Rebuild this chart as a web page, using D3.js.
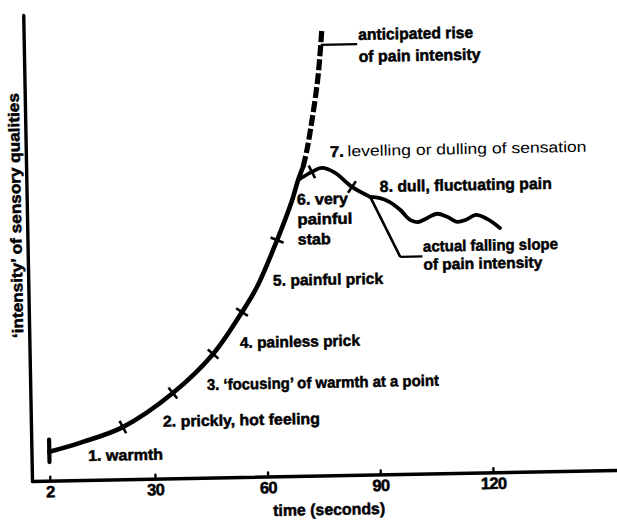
<!DOCTYPE html>
<html><head><meta charset="utf-8">
<script src="https://cdn.jsdelivr.net/npm/d3@7"></script>
<style>
html,body{margin:0;padding:0;background:#fff;}
svg{display:block;}
text{font-family:"Liberation Sans",Arial,sans-serif;fill:#000;}
</style></head><body>
<svg id="chart" width="617" height="522"></svg>
<script>
// ---------- data ----------
const xTicks = [2, 30, 60, 90, 120];
const xAxisTitle = "time (seconds)";
const yAxisTitle = "\u2018intensity\u2019 of sensory qualities";
const risingCurve = [[2,6.2],[10.2,8.0],[21.7,11.2],[35.2,18.3],[46.1,26.5],[54,35.4],[58.1,40.7],[63.7,50.7],[67.9,59.2],[69.6,63.5],[71,66.3]];
const anticipatedRise = [[71,66.3],[72.1,69.9],[73.6,76.3],[75.4,85.5],[76.7,96]];
const levellingCurve = [[69.6,63.5],[73.3,65.2],[76.0,66.0],[79.5,64.9],[83.9,61.8],[88.7,59.6]];
const fluctuatingPain = [[88.7,59.6],[91.3,59.3],[93.9,58.4],[96.6,56.7],[99.2,54.5],[101.3,54.0],[103.7,54.8],[106.4,55.7],[109.1,55.0],[111.7,53.9],[114.1,54.3],[116.8,55.3],[119.7,54.4],[123.1,52.4]];
const fallingSlope = [[88.7,59.6],[96.4,46.6]];
const onsetTime = 2;
const onsetRange = [4.0, 8.8];
const stageMarkTimes = [21.7, 35.2, 46.1, 54, 63.7, 73.3, 83.9];
const stageLabels = ["1. warmth", "2. prickly, hot feeling", "3. \u2018focusing\u2019 of warmth at a point", "4. painless prick", "5. painful prick", "6. very|painful|stab", "7.", "levelling or dulling of sensation", "8. dull, fluctuating pain"];
const calloutLabels = ["anticipated rise|of pain intensity", "actual falling slope|of pain intensity"];

// ---------- layout ----------
const mLeft = 32, mRight = 617, mBottom = 481, mTop = 15;
const svg = d3.select("#chart");
const g = svg.append("g").attr("transform", `rotate(-1.08, ${mLeft}, ${mBottom})`);

const x = d3.scaleLinear().domain([-2.75, 153]).range([mLeft, mRight]);
const y = d3.scaleLinear().domain([0, 100]).range([mBottom, mTop]);

// axes
const xAxis = g.append("g").attr("transform", `translate(0,${mBottom})`)
  .call(d3.axisBottom(x).tickValues(xTicks).tickSize(-4).tickSizeOuter(0).tickPadding(5).tickFormat(d3.format("d")));
xAxis.select(".domain").attr("stroke", "#000").attr("stroke-width", 3.4).attr("stroke-linecap", "round");
xAxis.selectAll(".tick line").attr("stroke", "#000").attr("stroke-width", 2.4).attr("stroke-linecap", "round");
xAxis.selectAll(".tick text").attr("font-size", 16.5).attr("font-weight", "bold").attr("font-family", "Liberation Sans, Arial, sans-serif")
  .attr("letter-spacing", -0.6).attr("fill", "#000").attr("stroke", "#000").attr("stroke-width", 0.5);

const yAxis = g.append("g").attr("transform", `translate(${mLeft},0)`)
  .call(d3.axisLeft(y).tickValues([]).tickSizeOuter(0));
yAxis.select(".domain").attr("stroke", "#000").attr("stroke-width", 3.4).attr("stroke-linecap", "round");

// axis titles
g.append("text").attr("x", x(76.2)).attr("y", mBottom + 39.6)
  .attr("text-anchor", "middle").attr("font-weight", "bold").attr("font-size", 16)
  .attr("stroke", "#000").attr("stroke-width", 0.5)
  .attr("textLength", 112).attr("lengthAdjust", "spacingAndGlyphs").text(xAxisTitle);
g.append("text").attr("transform", `translate(26,${y(57)}) rotate(-90)`)
  .attr("text-anchor", "middle").attr("font-weight", "bold").attr("font-size", 15.5)
  .attr("stroke", "#000").attr("stroke-width", 0.5)
  .attr("textLength", 245).attr("lengthAdjust", "spacingAndGlyphs").text(yAxisTitle);

// curves
const lineC = d3.line().x(d => x(d[0])).y(d => y(d[1])).curve(d3.curveCatmullRom.alpha(0.5));
const lineS = d3.line().x(d => x(d[0])).y(d => y(d[1]));

g.append("path").datum(risingCurve).attr("d", lineC).attr("fill", "none").attr("stroke", "#000")
  .attr("stroke-width", 4.6).attr("stroke-linecap", "round");
g.append("path").datum(anticipatedRise).attr("d", lineC).attr("fill", "none").attr("stroke", "#000")
  .attr("stroke-width", 5.2).attr("stroke-dasharray", "11,3");
g.append("path").datum(levellingCurve).attr("d", lineC).attr("fill", "none").attr("stroke", "#000")
  .attr("stroke-width", 3.8).attr("stroke-linecap", "round");
g.append("path").datum(fluctuatingPain).attr("d", lineC).attr("fill", "none").attr("stroke", "#000")
  .attr("stroke-width", 3.8).attr("stroke-linecap", "round").attr("stroke-linejoin", "round");
g.append("path").datum(fallingSlope).attr("d", lineS)
  .attr("fill", "none").attr("stroke", "#000").attr("stroke-width", 2.6);

// onset bar
g.append("line").attr("x1", x(onsetTime)).attr("x2", x(onsetTime))
  .attr("y1", y(onsetRange[0])).attr("y2", y(onsetRange[1]))
  .attr("stroke", "#000").attr("stroke-width", 4.2).attr("stroke-linecap", "round");

// stage marks (short strokes across the curve)
const allCurves = [risingCurve, levellingCurve];
stageMarkTimes.forEach(t => {
  const curve = allCurves.find(c => c.some(p => p[0] === t));
  const i = curve.findIndex(p => p[0] === t);
  const p = curve[i], a = curve[Math.max(0, i - 1)], b = curve[Math.min(curve.length - 1, i + 1)];
  const dx = x(b[0]) - x(a[0]), dy = y(b[1]) - y(a[1]);
  const len = Math.hypot(dx, dy);
  const nx = -dy / len, ny = dx / len, h = 7;
  const cx = x(p[0]), cy = y(p[1]);
  g.append("line").attr("x1", cx - nx * h).attr("y1", cy - ny * h).attr("x2", cx + nx * h).attr("y2", cy + ny * h)
    .attr("stroke", "#000").attr("stroke-width", 2.6);
});

// callout leader lines
const leaders = [
  [[76.3, 92.4], [86.0, 92.4]],
  [[96.4, 46.6], [102.3, 46.6]]
];
leaders.forEach(l => g.append("path").datum(l).attr("d", lineS)
  .attr("fill", "none").attr("stroke", "#000").attr("stroke-width", 2.2));

// annotations: [label, t, I, widths, line spacing, weight, size]
const notes = [
  [stageLabels[0], 12.3, 4.06, [75], 0, "bold", 15.5],
  [stageLabels[1], 32.4, 11.1, [157], 0, "bold", 15.5],
  [stageLabels[2], 44.3, 18.8, [232], 0, "bold", 15.5],
  [stageLabels[3], 53.3, 27.7, [120], 0, "bold", 15.5],
  [stageLabels[4], 62.4, 40.9, [110], 0, "bold", 15.5],
  [stageLabels[5], 69.2, 58.2, [51, 55, 33], 20, "bold", 15.5],
  [stageLabels[6], 78.2, 68.3, [14], 0, "bold", 15.5],
  [stageLabels[7], 82.9, 68.4, [239], 0, "normal", 15],
  [stageLabels[8], 91.3, 60.6, [172], 0, "bold", 16],
  [calloutLabels[0], 86.3, 93.3, [115, 122], 22, "bold", 16],
  [calloutLabels[1], 102.5, 47.6, [135, 119], 18, "bold", 15.5]
];
notes.forEach(([txt, t, I, ws, sp, wt, fs]) => {
  txt.split("|").forEach((ln, k) => {
    const el = g.append("text").attr("x", x(t)).attr("y", y(I) + k * sp)
      .attr("font-weight", wt).attr("font-size", fs)
      .attr("textLength", ws[k]).attr("lengthAdjust", "spacingAndGlyphs").text(ln);
    if (wt === "bold") el.attr("stroke", "#000").attr("stroke-width", 0.5);
  });
});
</script>
</body></html>
